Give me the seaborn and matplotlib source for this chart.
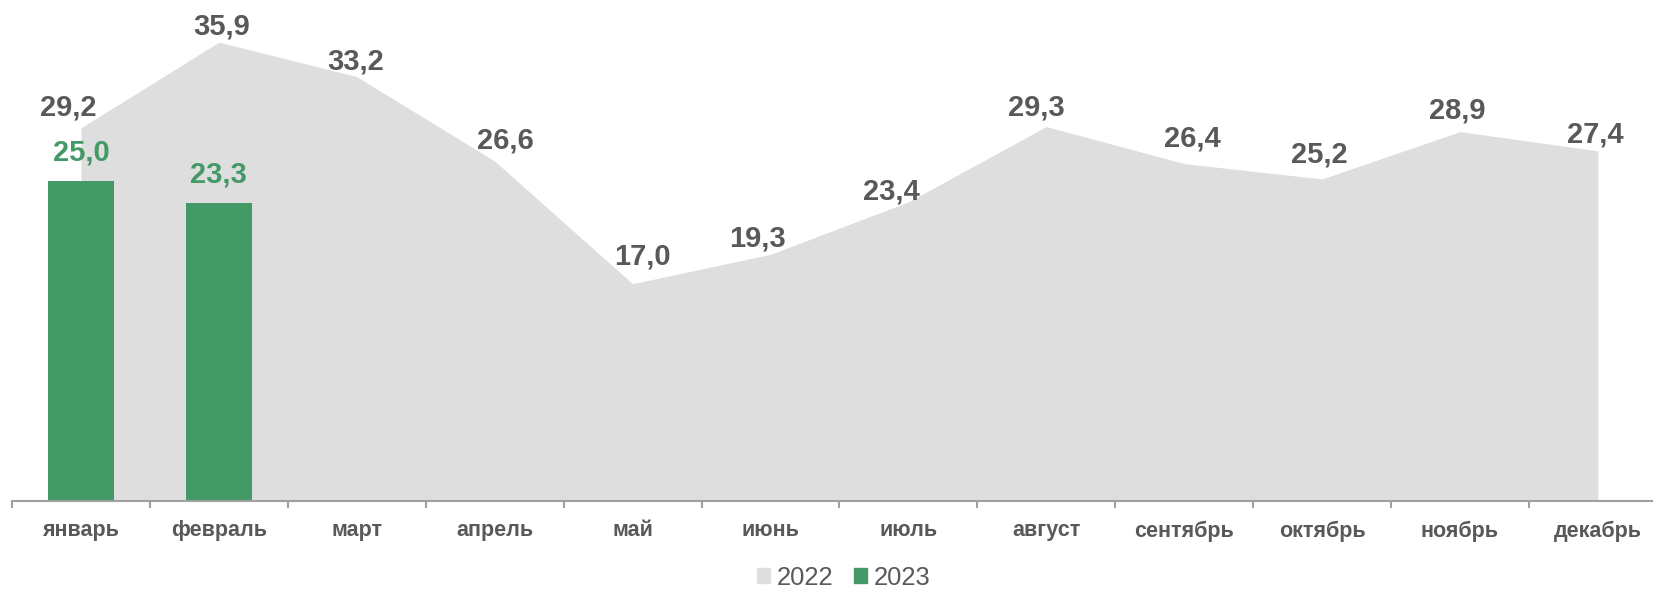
import numpy as np
import pandas as pd
import seaborn as sns
import matplotlib
matplotlib.use('Agg')
import matplotlib.pyplot as plt
from matplotlib.patches import Patch

# data
months = ['январь', 'февраль', 'март', 'апрель', 'май', 'июнь',
          'июль', 'август', 'сентябрь', 'октябрь', 'ноябрь', 'декабрь']
vals_2022 = [29.2, 35.9, 33.2, 26.6, 17.0, 19.3, 23.4, 29.3, 26.4, 25.2, 28.9, 27.4]
vals_2023 = [25.0, 23.3]
series_names = ['2022', '2023']

# label offsets in px (dx, dy above point)
offs_2022 = [(-13, 20), (3, 16), (-1, 15), (11, 21), (10, 27), (-13, 16),
             (-17, 10), (-10, 19), (8, 25), (-3, 24), (-3, 21), (-3, 16)]
offs_2023 = [(0, 29), (0, 29)]

grey_area = '#DEDEDE'
green = '#449A67'
txt_col = '#595959'

sns.set_theme(style='white')
plt.rcParams['font.family'] = ['Liberation Sans', 'DejaVu Sans']

W, H = 1653, 589
fig = plt.figure(figsize=(W / 100, H / 100), dpi=100)
ax = fig.add_axes([12 / W, 1 - 501 / H, (12 * 137.9) / W, 501 / H])

df = pd.DataFrame({'month': months,
                   'v2023': vals_2023 + [np.nan] * (len(months) - len(vals_2023))})
x = np.arange(len(months))
ax.fill_between(x, vals_2022, 0, color=grey_area, linewidth=0, zorder=0.5)
sns.barplot(data=df, x='month', y='v2023', order=months, color=green,
            width=0.476, saturation=1, linewidth=0, ax=ax, zorder=2)

ax.set_xlim(-0.5, 11.5)
ax.set_ylim(0, 39.2)
ax.set_xlabel('')
ax.set_ylabel('')
ax.set_yticks([])
for s in ['top', 'right', 'left']:
    ax.spines[s].set_visible(False)
ax.spines['bottom'].set_color('#A0A0A0')
ax.spines['bottom'].set_linewidth(1.5)

ax.set_xticks(x)
ax.set_xticklabels(months, fontsize=15.5, fontweight='bold', color=txt_col)
ax.tick_params(axis='x', which='major', length=0, pad=14)
ax.set_xticks(np.arange(-0.5, 12, 1), minor=True)
ax.tick_params(axis='x', which='minor', bottom=True, length=5, width=1.5, color='#A0A0A0')

k = 0.72  # px -> pt at dpi 100
for i, v in enumerate(vals_2022):
    dx, dy = offs_2022[i]
    ax.annotate(f'{v:.1f}'.replace('.', ','), (i, v), xytext=(dx * k, dy * k),
                textcoords='offset points', ha='center', va='center',
                fontsize=21, fontweight='bold', color=txt_col, zorder=5)
for i, v in enumerate(vals_2023):
    dx, dy = offs_2023[i]
    ax.annotate(f'{v:.1f}'.replace('.', ','), (i, v), xytext=(dx * k, dy * k),
                textcoords='offset points', ha='center', va='center',
                fontsize=21, fontweight='bold', color=green, zorder=5)

handles = [Patch(color=grey_area, label=series_names[0]),
           Patch(color=green, label=series_names[1])]
fig.legend(handles=handles, loc='center', bbox_to_anchor=(843.5 / W, 1 - 578 / H),
           ncol=2, frameon=False, fontsize=18.4, labelcolor=txt_col,
           handlelength=0.52, handleheight=0.52, handletextpad=0.25,
           columnspacing=0.8, borderpad=0, borderaxespad=0)

fig.savefig('out.png', dpi=100)
